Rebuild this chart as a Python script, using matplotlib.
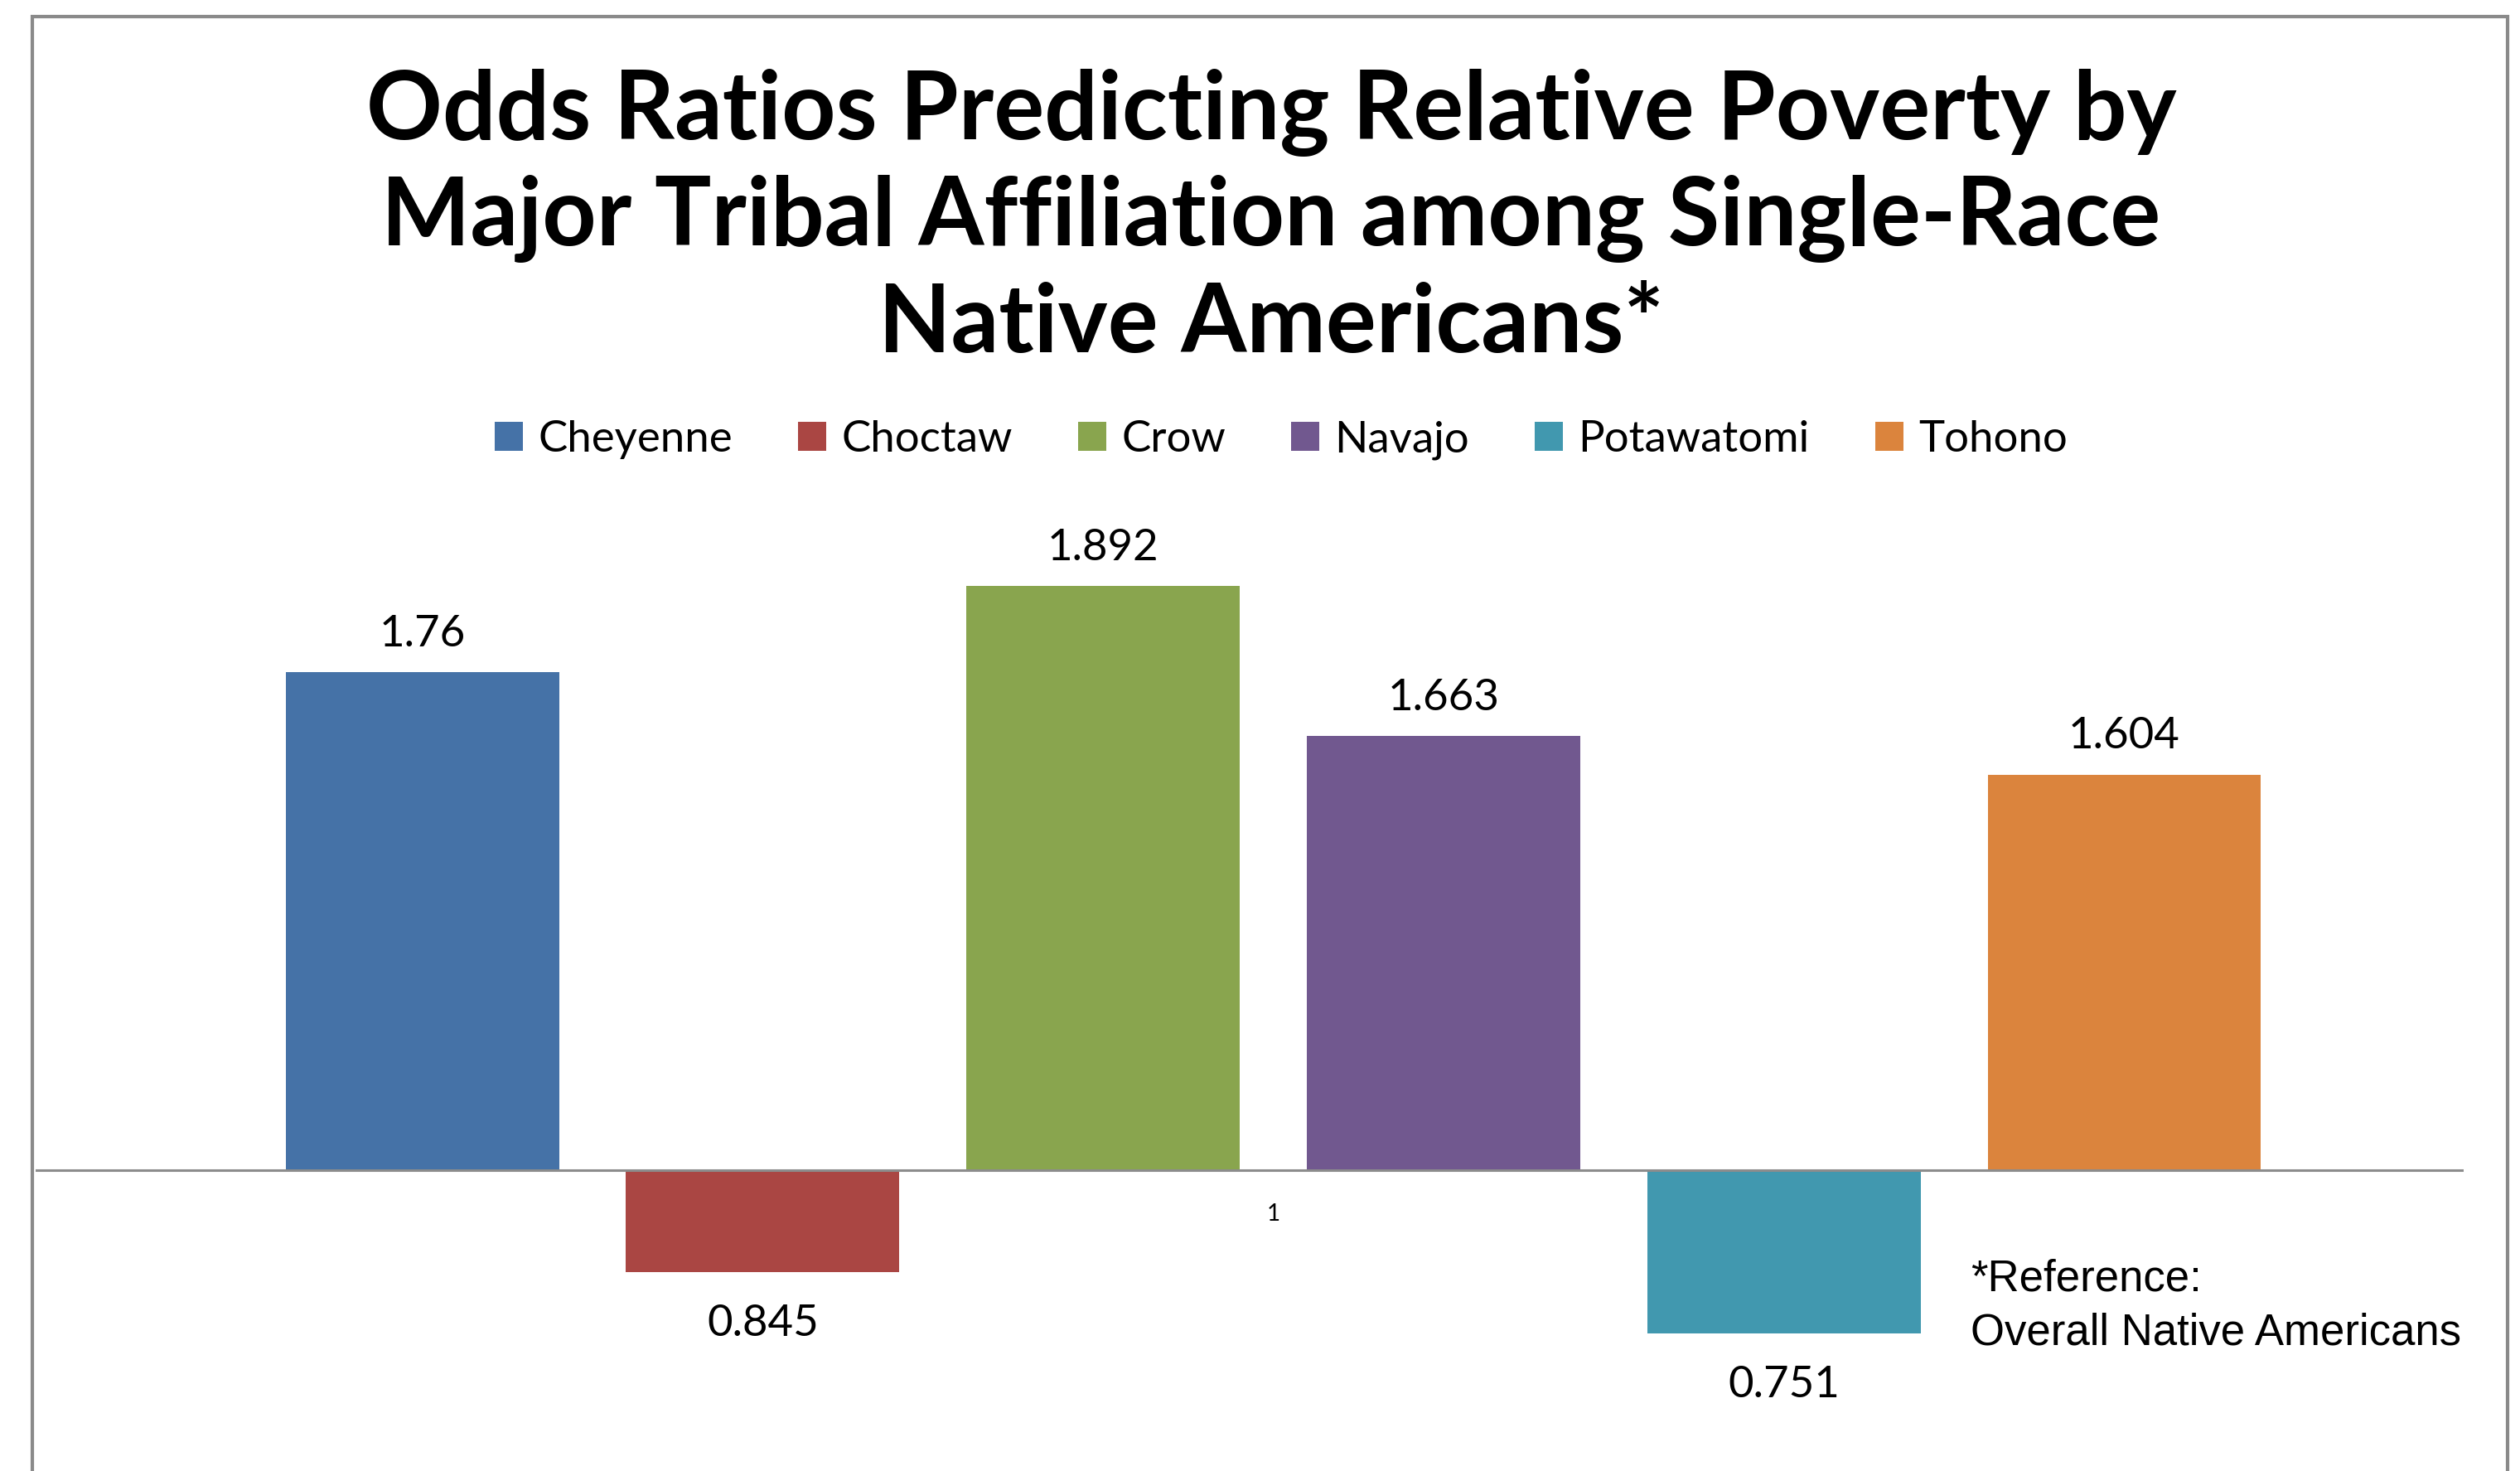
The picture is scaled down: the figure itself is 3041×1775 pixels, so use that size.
import matplotlib.pyplot as plt
from matplotlib.patches import Rectangle

# data
tribes = ["Cheyenne", "Choctaw", "Crow", "Navajo", "Potawatomi", "Tohono"]
odds = [1.76, 0.845, 1.892, 1.663, 0.751, 1.604]
colors = ["#4572A7", "#AA4643", "#89A54E", "#71588F", "#4198AF", "#DB843D"]
category = "1"
title_lines = ["Odds Ratios Predicting Relative Poverty by",
               "Major Tribal Affiliation among Single-Race",
               "Native Americans*"]
note = "*Reference:\nOverall Native Americans"
ref = 1.0

W, H = 3041, 1775
fig = plt.figure(figsize=(W / 100, H / 100), dpi=100)
fig.patch.set_facecolor("white")

# outer frame (open at bottom, like the cropped slide)
fig.add_artist(Rectangle((39 / W, -0.05), (3026 - 39) / W, 1.05 - 20 / H,
                         transform=fig.transFigure, fill=False,
                         edgecolor="#8a8a8a", linewidth=3))

ax = fig.add_axes([43 / W, 0, (2973 - 43) / W, (H - 582) / H])
ax.set_xlim(-1.136, 5.997)
ax.set_ylim(0.541, 2.050)
ax.axis("off")

bars = []
for i, (t, v, c) in enumerate(zip(tribes, odds, colors)):
    b = ax.bar(i, v - ref, bottom=ref, width=0.803, color=c, label=t, zorder=2)
    bars.append(b)
    off = 33 if v >= ref else -45
    ax.annotate(f"{v:g}", (i, v), xytext=(0, off), textcoords="offset points",
                ha="center", va="center", fontsize=38, family="Lato")

ax.axhline(ref, color="#8c8c8c", linewidth=2.2, zorder=3)
ax.annotate(category, (2.5, ref), xytext=(0, -38), textcoords="offset points",
            ha="center", va="center", fontsize=20, family="Lato")

for k, line in enumerate(title_lines):
    fig.text(1534 / W, 1 - (136 + 128 * k) / H, line, ha="center", va="center",
             fontsize=82, fontweight="bold", family="Lato")

fig.legend(handles=[b[0] for b in bars], labels=tribes, loc="center",
           bbox_to_anchor=(1546 / W, 1 - 531 / H), ncol=6, frameon=False,
           prop={"family": "Lato", "size": 38}, handlelength=0.65,
           handleheight=0.65, handletextpad=0.34, columnspacing=1.5)

fig.text(2378 / W, 1 - 1576 / H, note, ha="left", va="center",
         fontsize=38, family="Liberation Sans", linespacing=1.4)

fig.savefig("out.png", dpi=100)
